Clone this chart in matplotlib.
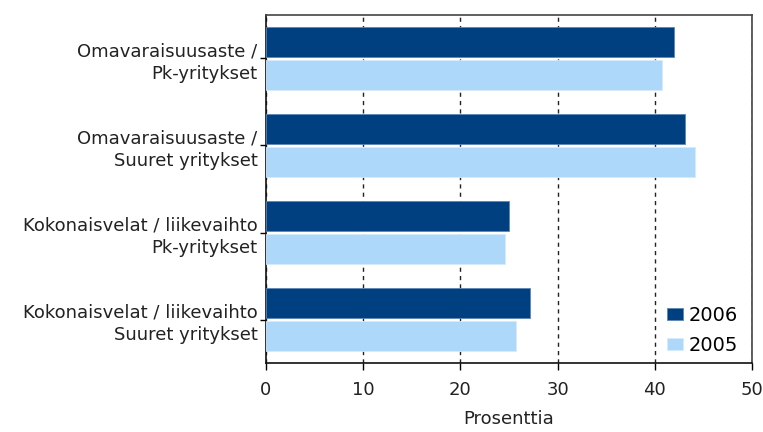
import matplotlib.pyplot as plt
import numpy as np

# data
categories = ['Omavaraisuusaste /\nPk-yritykset',
              'Omavaraisuusaste /\nSuuret yritykset',
              'Kokonaisvelat / liikevaihto\nPk-yritykset',
              'Kokonaisvelat / liikevaihto\nSuuret yritykset']
values_2006 = [42.0, 43.1, 25.0, 27.2]
values_2005 = [40.7, 44.1, 24.6, 25.7]
years = ['2006', '2005']

dark = '#004080'
light = '#ADD8FA'

fig = plt.figure(figsize=(7.63, 4.32), dpi=100)
ax = fig.add_axes([0.3486, 0.1597, 0.6370, 0.8056])

y = np.arange(len(categories))
h = 0.355
off = 0.19
ax.barh(y - off, values_2006, height=h, color=dark, edgecolor='#5d87b5',
        linewidth=0.6, label=years[0], zorder=3)
ax.barh(y + off, values_2005, height=h, color=light, edgecolor='#d6eafc',
        linewidth=0.6, label=years[1], zorder=3)

ax.set_ylim(3.5, -0.5)
ax.set_xlim(0, 50)
ax.set_xticks([0, 10, 20, 30, 40, 50])
ax.set_yticks(y)
ax.set_yticklabels(categories, fontsize=13, color='#222222',
                   linespacing=1.35, ha='right')
ax.tick_params(axis='x', labelsize=13, labelcolor='#222222',
               length=5, width=1, pad=8)
ax.tick_params(axis='y', length=4, width=1, pad=2)
ax.grid(axis='x', linestyle=(0, (3, 3)), color='#222222', linewidth=1, zorder=0)

for s in ['left', 'bottom']:
    ax.spines[s].set_color('#111111')
    ax.spines[s].set_linewidth(1.2)
for s in ['top', 'right']:
    ax.spines[s].set_color('#444444')
    ax.spines[s].set_linewidth(1.2)

ax.set_xlabel('Prosenttia', fontsize=13, color='#222222', labelpad=8)

ax.legend(loc='lower right', frameon=False, fontsize=14,
          handlelength=0.8, handleheight=0.55, handletextpad=0.3,
          labelspacing=0.55, borderaxespad=0.2, bbox_to_anchor=(0.995, -0.01))

plt.savefig('out.png', dpi=100)
